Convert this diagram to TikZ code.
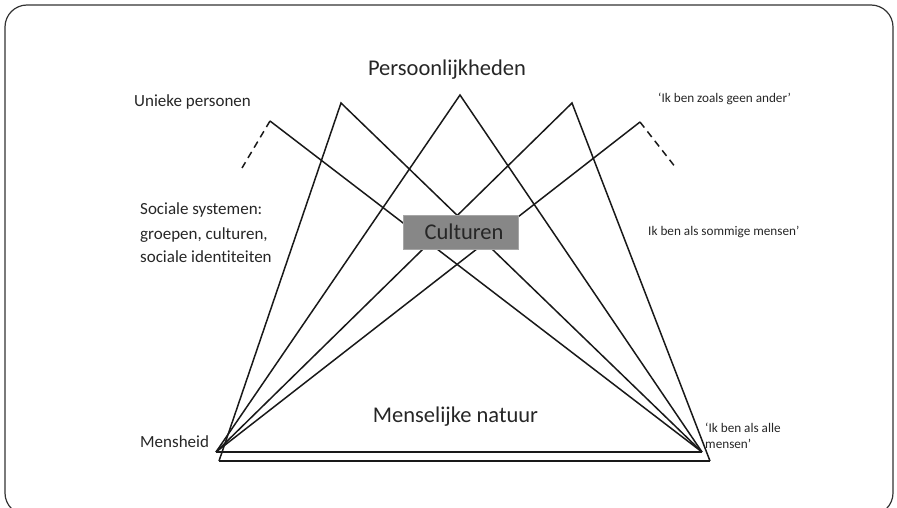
\documentclass[tikz,border=0pt]{standalone}
\usepackage{fontspec}
\setmainfont[Ligatures=NoCommon]{Carlito}
\begin{document}
\begin{tikzpicture}[x=1pt,y=-1pt,
    lijn/.style={line width=1.5pt,black!90},
    tekst/.style={anchor=base west,inner sep=0pt,text=black!85},
    groot/.style={font=\fontsize{22.5}{26}\selectfont},
    middel/.style={font=\fontsize{17}{20}\selectfont},
    klein/.style={font=\fontsize{13.2}{16}\selectfont}]
  \useasboundingbox (0,0) rectangle (897,508);
  \draw[line width=1.2pt,black!80,rounded corners=22pt] (5,5) rectangle (893,515);

  \coordinate (a1) at (270,121);
  \coordinate (a2) at (341,103);
  \coordinate (a3) at (460,95);
  \coordinate (a4) at (572,103);
  \coordinate (a5) at (640,122);
  \coordinate (d1) at (242,168);
  \coordinate (d5) at (676,168);
  \coordinate (l1) at (216,452);
  \coordinate (l2) at (219,461);
  \coordinate (r1) at (702,452);
  \coordinate (r2) at (710,461);

  \draw[lijn] (l1) -- (r1);
  \draw[lijn] (l2) -- (r2);
  \draw[lijn,dash pattern=on 7pt off 5pt] (a1) -- (d1);
  \draw[lijn,dash pattern=on 7pt off 5pt] (a5) -- (d5);
  \draw[lijn] (a1) -- (r1);
  \draw[lijn] (l2) -- (a2) -- (r1);
  \draw[lijn] (l1) -- (a3) -- (r1);
  \draw[lijn] (l1) -- (a4) -- (r2);
  \draw[lijn] (l1) -- (a5);

  \node[fill=black!47,draw=black!35,line width=0.8pt,minimum width=115pt,minimum height=34pt,inner sep=0pt] (box) at (460.5,232.5) {};
  \node[tekst,groot,anchor=base] (cult) at (464,239) {Culturen};

  \node[tekst,groot,anchor=base] (pers) at (447,76) {Persoonlijkheden};
  \node[tekst,groot,anchor=base] (mens) at (455.5,422) {Menselijke natuur};
  \node[tekst,middel] (uniek) at (134,107) {Unieke personen};
  \node[tekst,middel] (soc1) at (140,214) {Sociale systemen:};
  \node[tekst,middel] (soc2) at (140,239) {groepen, culturen,};
  \node[tekst,middel] (soc3) at (140,262) {sociale identiteiten};
  \node[tekst,middel] (heid) at (140,447) {Mensheid};
  \node[tekst,klein] (geen) at (658,103) {‘Ik ben zoals geen ander’};
  \node[tekst,klein] (som) at (648,235) {Ik ben als sommige mensen’};
  \node[tekst,klein] (alle1) at (705,432) {‘Ik ben als alle};
  \node[tekst,klein] (alle2) at (705,448) {mensen’};
\end{tikzpicture}
\end{document}
